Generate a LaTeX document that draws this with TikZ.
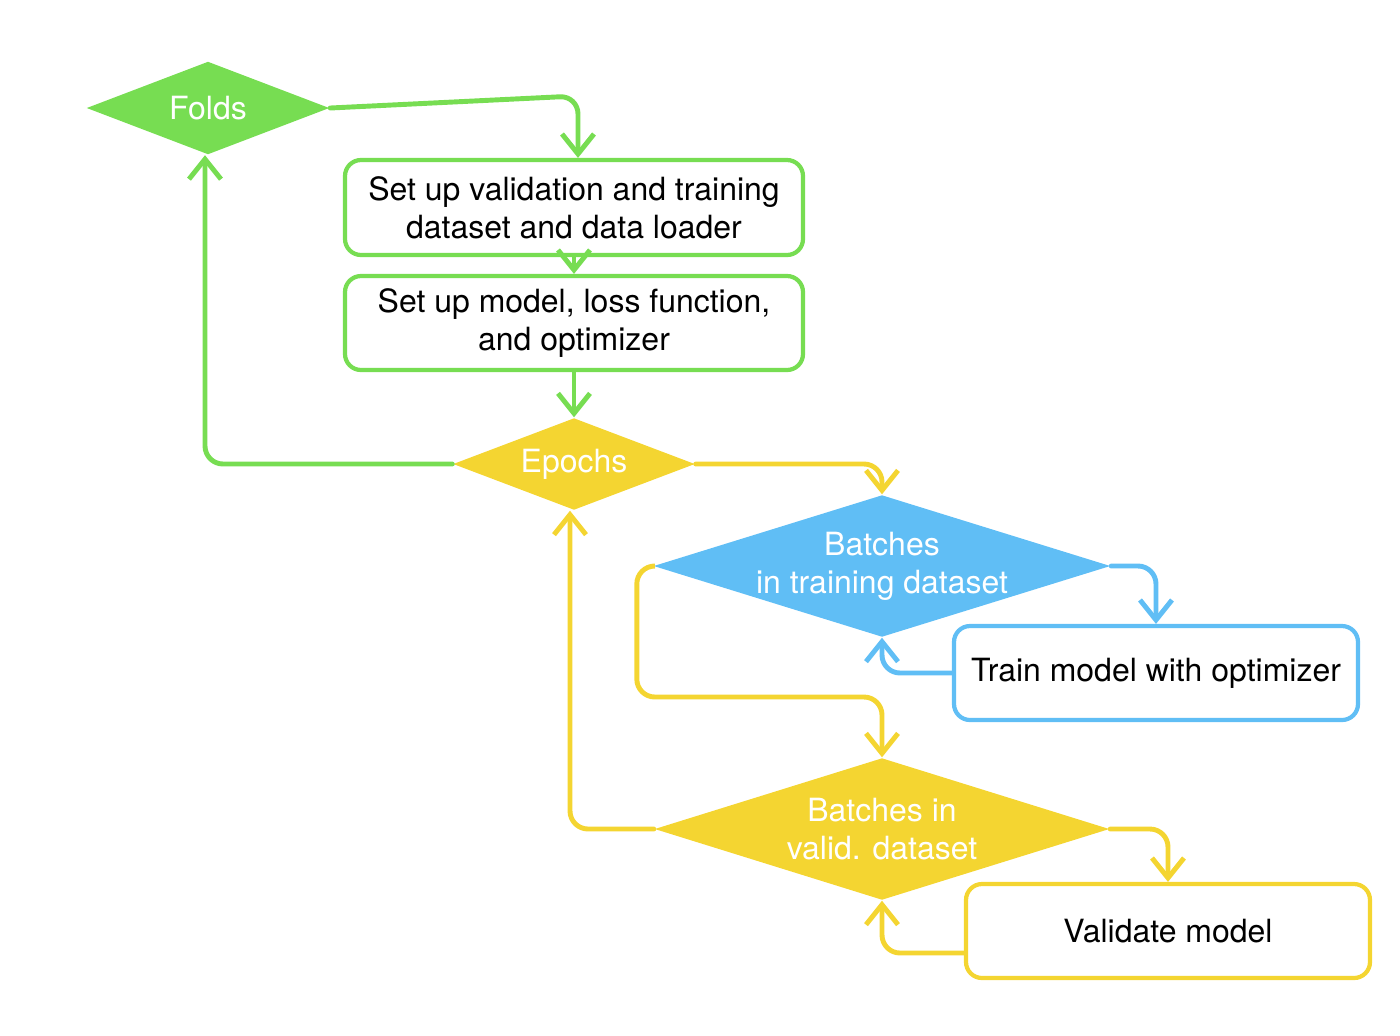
\documentclass[tikz,border=0pt]{standalone}
\usepackage{fontspec}
\setmainfont{TeX Gyre Heros}
\usepackage{tikz}
\usetikzlibrary{shapes.geometric,arrows.meta,calc}
\definecolor{foldgreen}{RGB}{119,221,82}
\definecolor{epochyellow}{RGB}{244,213,49}
\definecolor{batchblue}{RGB}{96,190,245}

\begin{document}
\begin{tikzpicture}[
        every node/.style={font=\fontsize{9.1}{10.8}\selectfont, align=center},
        loopdiamond/.style={diamond, fill=#1, text=white, inner sep=0pt, shape aspect=3.2},
        stepbox/.style={draw=#1, line width=1.2pt, rounded corners=0.16cm, fill=white, inner sep=0pt},
        flow/.style={draw=#1, line width=1.4pt, rounded corners=0.18cm, line cap=round,
                -{Straight Barb[length=0.2cm,width=0.32cm]}}
]
        \useasboundingbox (0,0) rectangle (14,-10.35);

        % loops
        \node[loopdiamond=foldgreen, minimum width=2.43cm, minimum height=0.93cm] (folds) at (2.08,-1.08) {Folds};
        \node[loopdiamond=epochyellow, minimum width=2.42cm, minimum height=0.92cm] (epochs) at (5.74,-4.64) {Epochs};
        \node[loopdiamond=batchblue, inner xsep=-0.1cm, minimum width=4.57cm, minimum height=1.42cm] (trainb) at (8.82,-5.66) {Batches\\in training dataset};
        \node[loopdiamond=epochyellow, inner xsep=-0.1cm, minimum width=4.55cm, minimum height=1.42cm] (validb) at (8.82,-8.29) {Batches in\\valid. dataset};

        % steps
        \node[stepbox=foldgreen, minimum width=4.58cm, minimum height=0.95cm] (data) at (5.74,-2.075) {Set up validation and training\\dataset and data loader};
        \node[stepbox=foldgreen, minimum width=4.58cm, minimum height=0.94cm] (model) at (5.74,-3.23) {Set up model, loss function,\\and optimizer};
        \node[stepbox=batchblue, minimum width=4.04cm, minimum height=0.94cm] (train) at (11.56,-6.73) {Train model with optimizer};
        \node[stepbox=epochyellow, minimum width=4.04cm, minimum height=0.94cm] (valid) at (11.68,-9.31) {Validate model};

        % green connectors
        \draw[flow=foldgreen] (folds.east) -- ($(data.north)+(0.04,0.62)$) -- ($(data.north)+(0.04,0)$);
        \draw[flow=foldgreen] (data.south) -- (model.north);
        \draw[flow=foldgreen] (model.south) -- (epochs.north);
        \draw[flow=foldgreen] (epochs.west) -| ($(folds.south)+(-0.03,0)$);

        % training
        \draw[flow=epochyellow] (epochs.east) -| (trainb.north);
        \draw[flow=batchblue] (trainb.east) -| (train.north);
        \draw[flow=batchblue] (train.west) -| (trainb.south);

        % validation
        \draw[flow=epochyellow] (trainb.west) -| ++(-0.16,-1.31) -| (validb.north);
        \draw[flow=epochyellow] (validb.west) -| ($(epochs.south)+(-0.04,0)$);
        \draw[flow=epochyellow] (validb.east) -| (valid.north);
        \draw[flow=epochyellow] ([yshift=-0.22cm]valid.west) -| (validb.south);
\end{tikzpicture}
\end{document}
